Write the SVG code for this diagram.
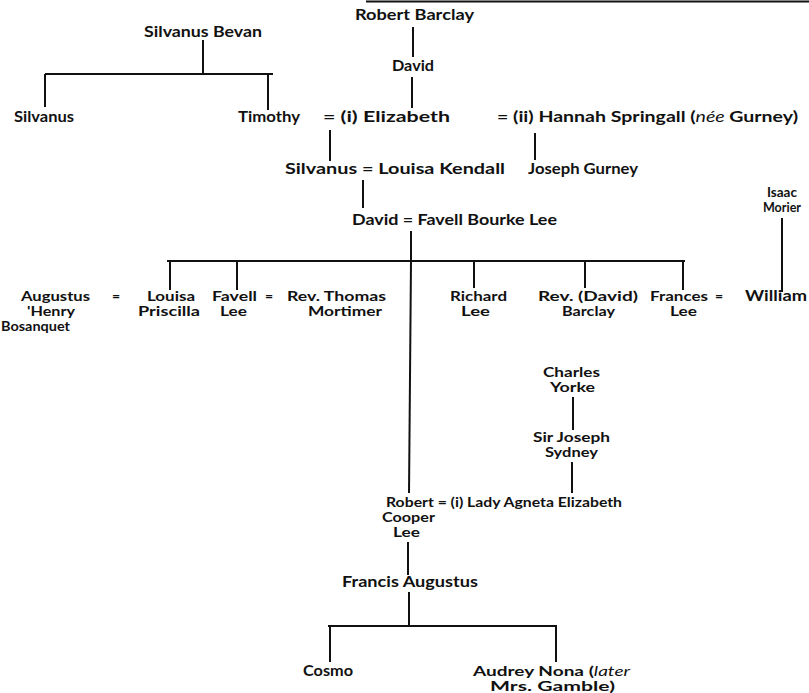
<svg xmlns="http://www.w3.org/2000/svg" width="809" height="693" viewBox="0 0 809 693">
<style>
text{font-family:Lato,"Liberation Sans",sans-serif;font-weight:bold;font-size:16px;fill:#111}
.m text{font-size:14px}
.c line{stroke:#111;stroke-width:2;stroke-linecap:butt}
.it{font-style:italic;font-weight:normal}
</style>
<rect width="809" height="693" fill="#fff"/>
<g class="c" id="connectors">
<line x1="366" y1="1.5" x2="809" y2="1.5" stroke-width="2.5"/>
<line x1="413" y1="27" x2="413" y2="57"/>
<line x1="412" y1="77" x2="412" y2="108"/>
<line x1="203" y1="40" x2="203" y2="74"/>
<line x1="45" y1="74" x2="273" y2="74"/>
<line x1="45" y1="74" x2="45" y2="107"/>
<line x1="268" y1="74" x2="268" y2="110"/>
<line x1="330" y1="130" x2="330" y2="161"/>
<line x1="535" y1="133" x2="535" y2="160"/>
<line x1="363" y1="180" x2="363" y2="208"/>
<line x1="411" y1="231" x2="411" y2="261"/>
<line x1="167" y1="261" x2="685" y2="261"/>
<line x1="170" y1="261" x2="170" y2="290"/>
<line x1="237" y1="261" x2="237" y2="290"/>
<line x1="474" y1="261" x2="474" y2="288"/>
<line x1="585" y1="261" x2="585" y2="288"/>
<line x1="683" y1="261" x2="683" y2="290"/>
<line x1="411" y1="261" x2="409" y2="493"/>
<line x1="782" y1="218" x2="782" y2="292"/>
<line x1="573" y1="397" x2="573" y2="430"/>
<line x1="572" y1="462" x2="572" y2="493"/>
<line x1="408" y1="542" x2="408" y2="575"/>
<line x1="409" y1="592" x2="409" y2="626"/>
<line x1="328" y1="626" x2="557" y2="626"/>
<line x1="330" y1="626" x2="330" y2="662"/>
<line x1="556" y1="626" x2="556" y2="662"/>
</g>
<g id="robert-barclay"><text x="355" y="20" textLength="119" lengthAdjust="spacingAndGlyphs">Robert Barclay</text></g>
<g id="david-barclay"><text x="392" y="71" textLength="42" lengthAdjust="spacingAndGlyphs">David</text></g>
<g id="silvanus-bevan"><text x="144" y="37" textLength="118" lengthAdjust="spacingAndGlyphs">Silvanus Bevan</text></g>
<g id="silvanus-1"><text x="14" y="122" textLength="60" lengthAdjust="spacingAndGlyphs">Silvanus</text></g>
<g id="timothy"><text x="238" y="122" textLength="62" lengthAdjust="spacingAndGlyphs">Timothy</text></g>
<g id="elizabeth"><text x="323" y="122" textLength="127" lengthAdjust="spacingAndGlyphs">= (i) Elizabeth</text></g>
<g id="hannah"><text x="497" y="122" textLength="301" lengthAdjust="spacingAndGlyphs">= (ii) Hannah Springall (<tspan class="it">née</tspan> Gurney)</text></g>
<g id="silvanus-louisa"><text x="285" y="174" textLength="220" lengthAdjust="spacingAndGlyphs">Silvanus = Louisa Kendall</text></g>
<g id="joseph-gurney"><text x="528" y="174" textLength="110" lengthAdjust="spacingAndGlyphs">Joseph Gurney</text></g>
<g id="david-favell"><text x="352" y="225" textLength="205" lengthAdjust="spacingAndGlyphs">David = Favell Bourke Lee</text></g>
<g id="isaac-morier" class="m"><text x="767" y="197" textLength="30" lengthAdjust="spacingAndGlyphs">Isaac</text><text x="763" y="212" textLength="38" lengthAdjust="spacingAndGlyphs">Morier</text></g>
<g id="augustus" class="m">
<text x="21" y="301" textLength="69" lengthAdjust="spacingAndGlyphs">Augustus</text>
<text x="27" y="316" textLength="48" lengthAdjust="spacingAndGlyphs">'Henry</text>
<text x="1" y="331" textLength="69" lengthAdjust="spacingAndGlyphs">Bosanquet</text>
<text x="112" y="301">=</text>
</g>
<g id="louisa-priscilla" class="m">
<text x="147" y="301" textLength="48" lengthAdjust="spacingAndGlyphs">Louisa</text>
<text x="138" y="316" textLength="62" lengthAdjust="spacingAndGlyphs">Priscilla</text>
</g>
<g id="favell-lee" class="m">
<text x="212" y="301" textLength="45" lengthAdjust="spacingAndGlyphs">Favell</text>
<text x="220" y="316" textLength="27" lengthAdjust="spacingAndGlyphs">Lee</text>
<text x="265" y="301">=</text>
</g>
<g id="thomas-mortimer" class="m">
<text x="287" y="301" textLength="99" lengthAdjust="spacingAndGlyphs">Rev. Thomas</text>
<text x="308" y="316" textLength="74" lengthAdjust="spacingAndGlyphs">Mortimer</text>
</g>
<g id="richard-lee" class="m">
<text x="450" y="301" textLength="57" lengthAdjust="spacingAndGlyphs">Richard</text>
<text x="461" y="316" textLength="29" lengthAdjust="spacingAndGlyphs">Lee</text>
</g>
<g id="rev-david-barclay" class="m">
<text x="538" y="301" textLength="100" lengthAdjust="spacingAndGlyphs">Rev. (David)</text>
<text x="562" y="316" textLength="53" lengthAdjust="spacingAndGlyphs">Barclay</text>
</g>
<g id="frances-lee" class="m">
<text x="650" y="301" textLength="58" lengthAdjust="spacingAndGlyphs">Frances</text>
<text x="670" y="316" textLength="27" lengthAdjust="spacingAndGlyphs">Lee</text>
<text x="715" y="301">=</text>
</g>
<g id="william"><text x="745" y="301" textLength="62" lengthAdjust="spacingAndGlyphs">William</text></g>
<g id="charles-yorke" class="m">
<text x="543" y="377" textLength="57" lengthAdjust="spacingAndGlyphs">Charles</text>
<text x="550" y="392" textLength="45" lengthAdjust="spacingAndGlyphs">Yorke</text>
</g>
<g id="joseph-sydney" class="m">
<text x="533" y="442" textLength="77" lengthAdjust="spacingAndGlyphs">Sir Joseph</text>
<text x="545" y="457" textLength="53" lengthAdjust="spacingAndGlyphs">Sydney</text>
</g>
<g id="robert-cooper-lee" class="m">
<text x="386" y="507" textLength="236" lengthAdjust="spacingAndGlyphs">Robert = (i) Lady Agneta Elizabeth</text>
<text x="382" y="522" textLength="53" lengthAdjust="spacingAndGlyphs">Cooper</text>
<text x="393" y="537" textLength="27" lengthAdjust="spacingAndGlyphs">Lee</text>
</g>
<g id="francis-augustus"><text x="342" y="587" textLength="136" lengthAdjust="spacingAndGlyphs">Francis Augustus</text></g>
<g id="cosmo"><text x="303" y="676" textLength="50" lengthAdjust="spacingAndGlyphs">Cosmo</text></g>
<g id="audrey-nona" class="m">
<text x="473" y="676" textLength="157" lengthAdjust="spacingAndGlyphs">Audrey Nona (<tspan class="it">later</tspan></text>
<text x="490" y="691" textLength="125" lengthAdjust="spacingAndGlyphs">Mrs. Gamble)</text>
</g>
</svg>
